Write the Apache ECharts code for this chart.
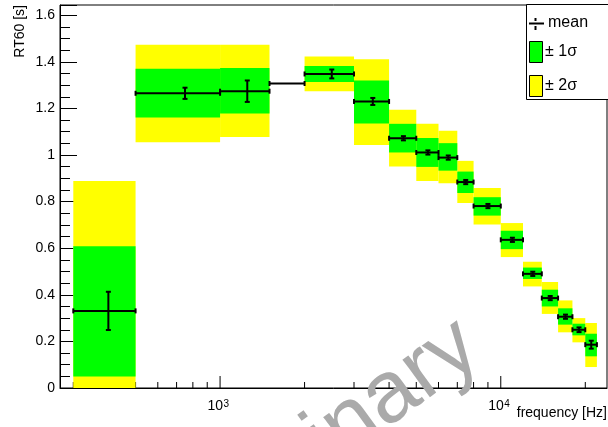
<!DOCTYPE html>
<html>
<head>
<meta charset="utf-8">
<script src="https://cdn.jsdelivr.net/npm/echarts@6/dist/echarts.min.js"></script>
<style>
  html, body { margin: 0; padding: 0; background: #ffffff; }
  #chart { width: 608px; height: 427px; }
</style>
</head>
<body>
<div id="chart"></div>
<script>
// Frequency bins [Hz]
const binLow  = [300, 500, 1000, 1500, 2000, 3000, 4000, 5000, 6000, 7000, 8000, 10000, 12000, 14000, 16000, 18000, 20000];
const binHigh = [500, 1000, 1500, 2000, 3000, 4000, 5000, 6000, 7000, 8000, 10000, 12000, 14000, 16000, 18000, 20000, 22000];
const binCenter = [400, 750, 1250, 1750, 2500, 3500, 4500, 5500, 6500, 7500, 9000, 11000, 13000, 15000, 17000, 19000, 21000];

// Mean reverberation time per bin [s] and its error
const meanRT60 = [0.331, 1.265, 1.274, 1.307, 1.348, 1.230, 1.072, 1.011, 0.989, 0.884, 0.781, 0.636, 0.490, 0.386, 0.306, 0.250, 0.186];
const meanErr  = [0.082, 0.024, 0.046, null, 0.019, 0.015, 0.009, 0.009, 0.009, 0.009, 0.009, 0.009, 0.009, 0.009, 0.009, 0.010, 0.017];

// +-1 sigma and +-2 sigma bands [s]
const sigma1Low  = [0.049, 1.161, 1.178, null, 1.313, 1.135, 1.011, 0.949, 0.933, 0.837, 0.740, 0.596, 0.468, 0.350, 0.272, 0.226, 0.136];
const sigma1High = [0.608, 1.370, 1.374, null, 1.382, 1.320, 1.134, 1.073, 1.051, 0.929, 0.819, 0.675, 0.517, 0.422, 0.342, 0.276, 0.233];
const sigma2Low  = [0.000, 1.055, 1.077, null, 1.274, 1.043, 0.951, 0.889, 0.879, 0.794, 0.702, 0.562, 0.436, 0.318, 0.239, 0.196, 0.090];
const sigma2High = [0.889, 1.473, 1.473, null, 1.423, 1.411, 1.194, 1.134, 1.104, 0.975, 0.858, 0.708, 0.542, 0.455, 0.376, 0.300, 0.279];

// Axis ticks
const xTicks = [300, 400, 500, 600, 700, 800, 900, 1000, 2000, 3000, 4000, 5000, 6000, 7000, 8000, 9000, 10000, 20000];
const xMajorTicks = [1000, 10000];
const xTickLabels = [{ value: 1000, base: '10', exp: '3' }, { value: 10000, base: '10', exp: '4' }];
const yInterval = 0.2;

const FONT = "'Liberation Sans', Arial, Helvetica, sans-serif";
const GREEN = '#00ff00';
const YELLOW = '#ffff00';

function bandData(lo, hi) {
  const out = [];
  for (let i = 0; i < binLow.length; i++) {
    if (lo[i] == null || hi[i] == null) continue;
    out.push([binLow[i], binHigh[i], lo[i], hi[i]]);
  }
  return out;
}

function bandRender(color) {
  return function (params, api) {
    const p1 = api.coord([api.value(0), api.value(3)]);
    const p2 = api.coord([api.value(1), api.value(2)]);
    return {
      type: 'rect',
      shape: { x: p1[0], y: p1[1], width: p2[0] - p1[0], height: p2[1] - p1[1] },
      style: { fill: color }
    };
  };
}

const meanData = binLow.map((lo, i) => [lo, binHigh[i], binCenter[i], meanRT60[i], meanErr[i] == null ? 0 : meanErr[i]]);

function meanRender(params, api) {
  const lo = api.value(0), hi = api.value(1), c = api.value(2), m = api.value(3), e = api.value(4);
  const a = api.coord([lo, m]);
  const b = api.coord([hi, m]);
  const ls = { stroke: '#000', lineWidth: 2 };
  const children = [
    { type: 'line', shape: { x1: a[0], y1: a[1], x2: b[0], y2: b[1] }, style: ls },
    { type: 'line', shape: { x1: a[0], y1: a[1] - 2.5, x2: a[0], y2: a[1] + 2.5 }, style: ls },
    { type: 'line', shape: { x1: b[0], y1: b[1] - 2.5, x2: b[0], y2: b[1] + 2.5 }, style: ls }
  ];
  if (e > 0) {
    const t = api.coord([c, m + e]);
    const u = api.coord([c, m - e]);
    children.push(
      { type: 'line', shape: { x1: t[0], y1: t[1], x2: u[0], y2: u[1] }, style: ls },
      { type: 'line', shape: { x1: t[0] - 2.5, y1: t[1], x2: t[0] + 2.5, y2: t[1] }, style: ls },
      { type: 'line', shape: { x1: u[0] - 2.5, y1: u[1], x2: u[0] + 2.5, y2: u[1] }, style: ls }
    );
  }
  return { type: 'group', children: children };
}

const tickData = xTicks.map(v => [v, xMajorTicks.indexOf(v) >= 0 ? 1 : 0]);

function tickRender(params, api) {
  const v = api.value(0), major = api.value(1);
  const p = api.coord([v, 0]);
  const len = major ? 12 : 6;
  return {
    type: 'line',
    shape: { x1: p[0], y1: p[1], x2: p[0], y2: p[1] - len },
    style: { stroke: '#000', lineWidth: 1 }
  };
}

const labelData = xTickLabels.map(l => [l.value, 0, l.base, l.exp]);

function labelRender(params, api) {
  const item = xTickLabels[params.dataIndex];
  const p = api.coord([item.value, 0]);
  return {
    type: 'group',
    children: [
      { type: 'text', x: p[0] + 3, y: p[1] + 18, style: { text: item.base, font: '14px ' + FONT, fill: '#000', align: 'right', verticalAlign: 'middle' } },
      { type: 'text', x: p[0] + 3.5, y: p[1] + 16, style: { text: item.exp, font: '10px ' + FONT, fill: '#000', align: 'left', verticalAlign: 'middle' } }
    ]
  };
}

const chart = echarts.init(document.getElementById('chart'), null, { renderer: 'canvas' });

chart.setOption({
  backgroundColor: '#ffffff',
  animation: false,
  grid: { left: 60, top: 5, width: 547, height: 383, show: true, borderColor: '#000', borderWidth: 1, backgroundColor: 'transparent' },
  xAxis: {
    type: 'log', logBase: 10, min: 269, max: 23900,
    axisLine: { show: true, lineStyle: { color: '#000', width: 1 } },
    axisTick: { show: false }, axisLabel: { show: false }, splitLine: { show: false }, minorTick: { show: false }
  },
  yAxis: {
    type: 'value', min: 0, max: 1.644, interval: yInterval,
    axisLine: { show: true, lineStyle: { color: '#000', width: 1 } },
    axisTick: { show: true, inside: true, length: 17, lineStyle: { color: '#000', width: 1 } },
    minorTick: { show: true, splitNumber: 4, length: 10, lineStyle: { color: '#000', width: 1 } },
    axisLabel: { show: true, color: '#000', fontFamily: FONT, fontSize: 14, margin: 5, showMaxLabel: false },
    splitLine: { show: false }
  },
  series: [
    { type: 'custom', name: 'xticks', data: tickData, renderItem: tickRender, encode: { x: 0, y: 1 }, z: 1, silent: true },
    { type: 'custom', name: '± 2σ', data: bandData(sigma2Low, sigma2High), renderItem: bandRender(YELLOW), encode: { x: [0, 1], y: [2, 3] }, z: 2, silent: true },
    { type: 'custom', name: '± 1σ', data: bandData(sigma1Low, sigma1High), renderItem: bandRender(GREEN), encode: { x: [0, 1], y: [2, 3] }, z: 3, silent: true },
    { type: 'custom', name: 'mean', data: meanData, renderItem: meanRender, encode: { x: [0, 1, 2], y: 3 }, z: 4, silent: true },
    { type: 'custom', name: 'xlabels', data: labelData, renderItem: labelRender, encode: { x: 0, y: 1 }, z: 4, clip: false, silent: true }
  ],
  graphic: [
    // axis titles
    { type: 'text', x: 20, y: 5, rotation: Math.PI / 2, style: { text: 'RT60 [s]', font: '14px ' + FONT, fill: '#000', align: 'right', verticalAlign: 'middle' } },
    { type: 'text', x: 607, y: 413, style: { text: 'frequency [Hz]', font: '14px ' + FONT, fill: '#000', align: 'right', verticalAlign: 'middle' } },
    // legend
    { type: 'rect', shape: { x: 526.5, y: 4.5, width: 90, height: 95 }, style: { fill: '#fff', stroke: '#000', lineWidth: 1 }, z: 10 },
    { type: 'line', shape: { x1: 529, y1: 23.5, x2: 544, y2: 23.5 }, style: { stroke: '#000', lineWidth: 2 }, z: 11 },
    { type: 'line', shape: { x1: 535.5, y1: 18, x2: 535.5, y2: 21 }, style: { stroke: '#000', lineWidth: 2 }, z: 11 },
    { type: 'line', shape: { x1: 535.5, y1: 26, x2: 535.5, y2: 30 }, style: { stroke: '#000', lineWidth: 2 }, z: 11 },
    { type: 'text', x: 548, y: 23, style: { text: 'mean', font: '16px ' + FONT, fill: '#000', align: 'left', verticalAlign: 'middle' }, z: 11 },
    { type: 'rect', shape: { x: 529.5, y: 41.5, width: 13, height: 21 }, style: { fill: GREEN, stroke: '#000', lineWidth: 1 }, z: 11 },
    { type: 'text', x: 545, y: 52, style: { text: '± 1σ', font: '16px ' + FONT, fill: '#000', align: 'left', verticalAlign: 'middle' }, z: 11 },
    { type: 'rect', shape: { x: 529.5, y: 75.5, width: 13, height: 21 }, style: { fill: YELLOW, stroke: '#000', lineWidth: 1 }, z: 11 },
    { type: 'text', x: 545, y: 86, style: { text: '± 2σ', font: '16px ' + FONT, fill: '#000', align: 'left', verticalAlign: 'middle' }, z: 11 },
    // watermark
    { type: 'text', x: 470, y: 338, rotation: 36 * Math.PI / 180, style: { text: 'Preliminary', font: '88px ' + FONT, fill: '#aaaaaa', align: 'right', verticalAlign: 'middle' }, z: 20 }
  ]
});
</script>
</body>
</html>
